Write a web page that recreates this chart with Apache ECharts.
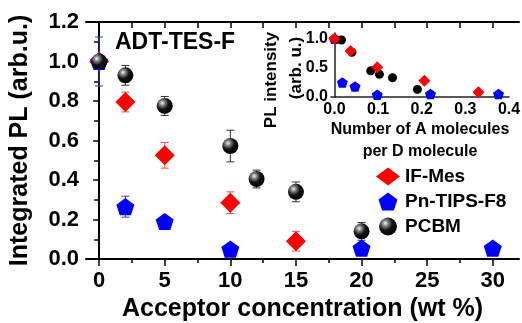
<!DOCTYPE html>
<html>
<head>
<meta charset="utf-8">
<script src="https://cdn.jsdelivr.net/npm/echarts@6/dist/echarts.min.js"></script>
<style>
  html, body { margin: 0; padding: 0; background: #fff; }
  #chart { width: 522px; height: 323px; }
</style>
</head>
<body>
<div id="chart"></div>
<script>
// main panel: acceptor concentration (wt %)
const ifMesX = [0, 2, 5, 10, 15];
const ifMesY = [1.0, 0.795, 0.525, 0.285, 0.09];
const ifMesErr = [0.03, 0.05, 0.065, 0.055, 0.05];

const pnX = [0, 2, 5, 10, 20, 30];
const pnY = [1.0, 0.265, 0.19, 0.05, 0.055, 0.055];
const pnErr = [0.124, 0.053, 0, 0, 0, 0];

const pcbmX = [0, 2, 5, 10, 12, 15, 20];
const pcbmY = [1.0, 0.93, 0.775, 0.572, 0.405, 0.34, 0.14];
const pcbmErr = [0.02, 0.05, 0.048, 0.08, 0.045, 0.05, 0.045];

// inset: number of A molecules per D molecule
const inIfMesX = [0.0, 0.037, 0.098, 0.206, 0.33];
const inIfMesY = [1.0, 0.79, 0.51, 0.28, 0.08];
const inPnX = [0.0, 0.018, 0.047, 0.098, 0.22, 0.376];
const inPnY = [1.0, 0.25, 0.18, 0.04, 0.05, 0.05];
const inPcbmX = [0.0, 0.016, 0.04, 0.083, 0.103, 0.133, 0.19];
const inPcbmY = [1.0, 0.98, 0.77, 0.45, 0.39, 0.33, 0.13];

const xTicks = [0, 5, 10, 15, 20, 25, 30];
const xMinorTicks = [2.5, 7.5, 12.5, 17.5, 22.5, 27.5];
const xTopTicks = [0, 2.5, 5, 7.5, 10, 12.5, 15, 17.5, 20, 22.5, 25, 27.5, 30];
const insetXTicks = [0, 0.1, 0.2, 0.3, 0.4];
const insetYTicks = [0, 0.5, 1.0];

const FONT = '"Liberation Sans", Arial, sans-serif';
const pentagon = 'path://M0,-1L0.951,-0.309L0.588,0.809L-0.588,0.809L-0.951,-0.309Z';

const chart = echarts.init(document.getElementById('chart'));

const zip = (xs, ys, es) => xs.map((x, i) => es ? [x, ys[i], es[i]] : [x, ys[i]]);

const sphere = new echarts.graphic.RadialGradient(0.35, 0.32, 0.7, [
  { offset: 0, color: '#f4f4f4' },
  { offset: 0.22, color: '#8a8a8a' },
  { offset: 0.55, color: '#151515' },
  { offset: 1, color: '#000' },
]);

// error bars drawn via the axis scales
function errBar(color) {
  return function (params, api) {
    const x = api.value(0);
    const y = api.value(1);
    const e = api.value(2);
    if (!e) return null;
    const top = api.coord([x, y + e]);
    const bot = api.coord([x, y - e]);
    const hw = 4;
    const style = { stroke: color, lineWidth: 1 };
    return {
      type: 'group',
      children: [
        { type: 'line', shape: { x1: top[0], y1: top[1], x2: bot[0], y2: bot[1] }, style },
        { type: 'line', shape: { x1: top[0] - hw, y1: top[1], x2: top[0] + hw, y2: top[1] }, style },
        { type: 'line', shape: { x1: bot[0] - hw, y1: bot[1], x2: bot[0] + hw, y2: bot[1] }, style },
      ],
    };
  };
}

const tickLabel = { color: '#000', fontFamily: FONT, fontWeight: 'bold', fontSize: 22 };
const insetLabel = { color: '#000', fontFamily: FONT, fontWeight: 'bold', fontSize: 16 };
const axisLine = { show: true, lineStyle: { color: '#000', width: 2 } };

const option = {
  animation: false,
  backgroundColor: '#fff',
  grid: [
    { left: 86, top: 22, right: 3, bottom: 64, outerBoundsMode: 'none' },
    { left: 331, top: 33, width: 178, height: 64, outerBoundsMode: 'none' },
  ],
  xAxis: [
    {
      gridIndex: 0, type: 'value', position: 'bottom', min: -1, max: 32,
      axisLine,
      splitLine: { show: false },
      axisTick: { show: true, length: 7, lineStyle: { color: '#000', width: 1.5 }, customValues: xTicks },
      axisLabel: { ...tickLabel, margin: 11, customValues: xTicks },
      name: 'Acceptor concentration (wt %)',
      nameLocation: 'middle',
      nameGap: 36,
      nameTextStyle: { color: '#000', fontFamily: FONT, fontWeight: 'bold', fontSize: 25 },
    },
    {
      gridIndex: 0, type: 'value', position: 'bottom', min: -1, max: 32,
      axisLine: { show: false },
      splitLine: { show: false },
      axisTick: { show: true, length: 4, lineStyle: { color: '#000', width: 1.5 }, customValues: xMinorTicks },
      axisLabel: { show: false },
    },
    {
      gridIndex: 0, type: 'value', position: 'top', min: -1, max: 32,
      axisLine,
      splitLine: { show: false },
      axisTick: { show: true, inside: true, length: 6, lineStyle: { color: '#000', width: 1.5 }, customValues: xTopTicks },
      axisLabel: { show: false },
    },
    {
      gridIndex: 1, type: 'value', min: -0.008, max: 0.4,
      axisLine: { show: true, lineStyle: { color: '#222', width: 1.5 } },
      splitLine: { show: false },
      axisTick: { show: false },
      axisLabel: { ...insetLabel, margin: 5, customValues: insetXTicks, formatter: (v) => v.toFixed(1) },
      name: 'Number of A molecules\nper D molecule',
      nameLocation: 'middle',
      nameGap: 22,
      nameTextStyle: { color: '#000', fontFamily: FONT, fontWeight: 'bold', fontSize: 16, lineHeight: 22, verticalAlign: 'top' },
    },
  ],
  yAxis: [
    {
      gridIndex: 0, type: 'value', position: 'left', min: 0, max: 1.2, interval: 0.2,
      axisLine,
      splitLine: { show: false },
      axisTick: { show: true, length: 6, lineStyle: { color: '#000', width: 1.5 } },
      minorTick: { show: true, splitNumber: 2, length: 4, lineStyle: { color: '#000', width: 1.5 } },
      axisLabel: { ...tickLabel, margin: 7, formatter: (v) => v.toFixed(1) },
      name: 'Integrated PL (arb.u.)',
      nameLocation: 'middle',
      nameGap: 53,
      nameTextStyle: { color: '#000', fontFamily: FONT, fontWeight: 'bold', fontSize: 25 },
    },
    {
      gridIndex: 0, type: 'value', position: 'right', min: 0, max: 1.2, interval: 0.1,
      axisLine,
      splitLine: { show: false },
      axisTick: { show: true, inside: true, length: 5, lineStyle: { color: '#000', width: 1.5 } },
      axisLabel: { show: false },
    },
    {
      gridIndex: 1, type: 'value', min: 0, max: 1.1,
      axisLine: { show: true, lineStyle: { color: '#222', width: 1.5 } },
      splitLine: { show: false },
      axisTick: { show: false },
      axisLabel: { ...insetLabel, margin: 3, customValues: insetYTicks, formatter: (v) => v.toFixed(1) },
    },
  ],
  legend: {
    orient: 'vertical',
    left: 376,
    top: 167,
    padding: 0,
    itemWidth: 24,
    itemHeight: 18,
    itemGap: 6,
    data: ['IF-Mes', 'Pn-TIPS-F8', 'PCBM'],
    textStyle: { color: '#000', fontFamily: FONT, fontWeight: 'bold', fontSize: 19 },
  },
  graphic: [
    {
      type: 'text', left: 115, top: 31,
      style: { text: 'ADT-TES-F', fill: '#000', font: 'bold 23px "Liberation Sans", Arial, sans-serif' },
    },
    {
      type: 'text', x: 271, y: 80, rotation: Math.PI / 2,
      style: { text: 'PL intensity', fill: '#000', align: 'center', verticalAlign: 'middle', font: 'bold 17px "Liberation Sans", Arial, sans-serif' },
    },
    {
      type: 'text', x: 296, y: 68, rotation: Math.PI / 2,
      style: { text: '(arb. u.)', fill: '#000', align: 'center', verticalAlign: 'middle', font: 'bold 17px "Liberation Sans", Arial, sans-serif' },
    },
  ],
  series: [
    {
      name: 'IF-Mes err', type: 'custom', xAxisIndex: 0, yAxisIndex: 0, z: 2,
      renderItem: errBar('#ff4a4a'), encode: { x: 0, y: 1 },
      data: zip(ifMesX, ifMesY, ifMesErr),
    },
    {
      name: 'Pn-TIPS-F8 err', type: 'custom', xAxisIndex: 0, yAxisIndex: 0, z: 2,
      renderItem: errBar('#3a3ac8'), encode: { x: 0, y: 1 },
      data: zip(pnX, pnY, pnErr),
    },
    {
      name: 'PCBM err', type: 'custom', xAxisIndex: 0, yAxisIndex: 0, z: 2,
      renderItem: errBar('#333'), encode: { x: 0, y: 1 },
      data: zip(pcbmX, pcbmY, pcbmErr),
    },
    {
      name: 'IF-Mes', type: 'scatter', xAxisIndex: 0, yAxisIndex: 0, z: 3,
      symbol: 'diamond', symbolSize: 20,
      itemStyle: { color: '#ff0000', opacity: 1 },
      data: zip(ifMesX, ifMesY),
    },
    {
      name: 'Pn-TIPS-F8', type: 'scatter', xAxisIndex: 0, yAxisIndex: 0, z: 3,
      symbol: pentagon, symbolSize: 18, symbolKeepAspect: true,
      itemStyle: { color: '#0000ff', opacity: 1 },
      data: zip(pnX, pnY),
    },
    {
      name: 'PCBM', type: 'scatter', xAxisIndex: 0, yAxisIndex: 0, z: 4,
      symbol: 'circle', symbolSize: 16,
      itemStyle: { color: sphere, opacity: 1 },
      data: zip(pcbmX, pcbmY),
    },
    {
      name: 'inset IF-Mes', type: 'scatter', xAxisIndex: 3, yAxisIndex: 2, z: 4,
      symbol: 'diamond', symbolSize: 12,
      itemStyle: { color: '#ff0000', opacity: 1 },
      data: zip(inIfMesX, inIfMesY),
    },
    {
      name: 'inset Pn-TIPS-F8', type: 'scatter', xAxisIndex: 3, yAxisIndex: 2, z: 3,
      symbol: pentagon, symbolSize: 11, symbolKeepAspect: true,
      itemStyle: { color: '#0000ff', opacity: 1 },
      data: zip(inPnX, inPnY),
    },
    {
      name: 'inset PCBM', type: 'scatter', xAxisIndex: 3, yAxisIndex: 2, z: 3,
      symbol: 'circle', symbolSize: 9,
      itemStyle: { color: '#000', opacity: 1 },
      data: zip(inPcbmX, inPcbmY),
    },
  ],
};

chart.setOption(option);
</script>
</body>
</html>
